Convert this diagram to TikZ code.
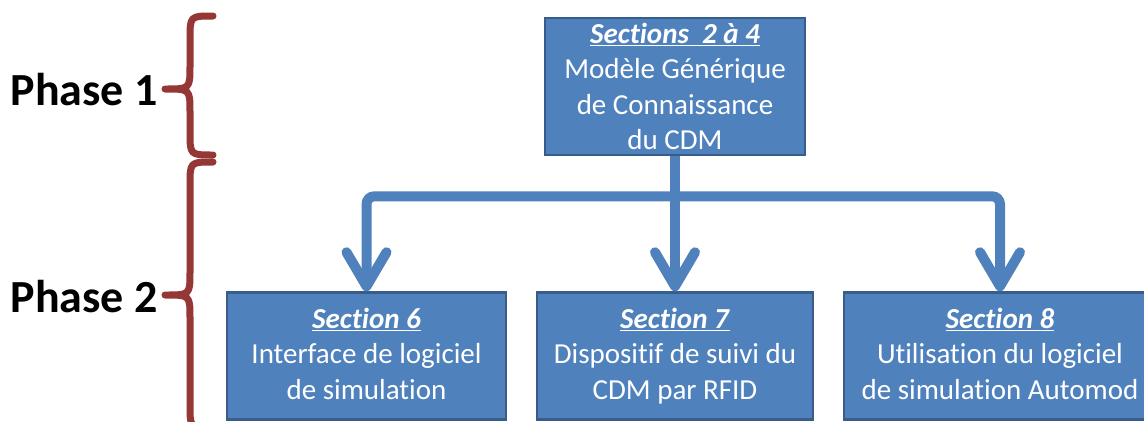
\documentclass[tikz,border=0pt]{standalone}
\usepackage{fontspec}
\setmainfont[Ligatures=NoCommon]{Carlito}
\usetikzlibrary{arrows.meta}
\definecolor{boxblue}{HTML}{4F81BD}
\definecolor{boxedge}{HTML}{385D8A}
\definecolor{bracered}{HTML}{953735}
\begin{document}
\begin{tikzpicture}[x=1pt, y=-1pt,
    section_box/.style={rectangle, draw=boxedge, line width=2.5pt, fill=boxblue, text=white, align=center, inner sep=0pt, font=\fontsize{29}{35.5}\selectfont},
    link/.style={draw=boxblue, line width=10pt, rounded corners=8pt},
    down/.style={link, -{Straight Barb[length=34pt, width=40pt, round]}},
    phase/.style={anchor=east, inner sep=0pt, font=\fontsize{46}{52}\selectfont\bfseries},
    brace_line/.style={draw=bracered, line width=7pt, line cap=round, line join=round}
]
\useasboundingbox (0, 0) rectangle (1144, 421);

\node[section_box, minimum width=260pt, minimum height=137pt] (s24) at (675, 86.5)
    {\underline{\textbf{\textit{Sections\ \ 2 à 4}}}\\Modèle Générique\\de Connaissance\\du CDM};
\node[section_box, minimum width=279pt, minimum height=127pt] (s6) at (366.5, 356)
    {\underline{\textbf{\textit{Section 6}}}\\Interface de logiciel\\de simulation\vphantom{p}};
\node[section_box, minimum width=276pt, minimum height=127pt] (s7) at (675, 356)
    {\underline{\textbf{\textit{Section 7}}}\\Dispositif de suivi du\\CDM par RFID};
\node[section_box, minimum width=312pt, minimum height=127pt] (s8) at (1000, 356)
    {\underline{\textbf{\textit{Section 8}}}\\Utilisation du logiciel\\de simulation Automod\vphantom{p}};

\draw[link] (s24.south) -- ++(0, 40) coordinate (split);
\draw[down] (split) -| (s6.north);
\draw[down] (split) -| (s8.north);
\draw[down] (s24.south) -- (s7.north);

\node[phase] (p1) at (158, 90) {Phase 1};
\node[phase] (p2) at (158, 297) {Phase 2};

% accolades
\draw[brace_line] (213, 16) .. controls (190, 16) .. (190, 39) -- (190, 66)
    .. controls (190, 89) .. (165, 89) .. controls (190, 89) .. (190, 112)
    -- (190, 132) .. controls (190, 155) .. (213, 155);
\draw[brace_line] (213, 162) .. controls (190, 162) .. (190, 185) -- (190, 272)
    .. controls (190, 295) .. (165, 295) .. controls (190, 295) .. (190, 318)
    -- (190, 405) .. controls (190, 428) .. (213, 428);
\end{tikzpicture}
\end{document}
